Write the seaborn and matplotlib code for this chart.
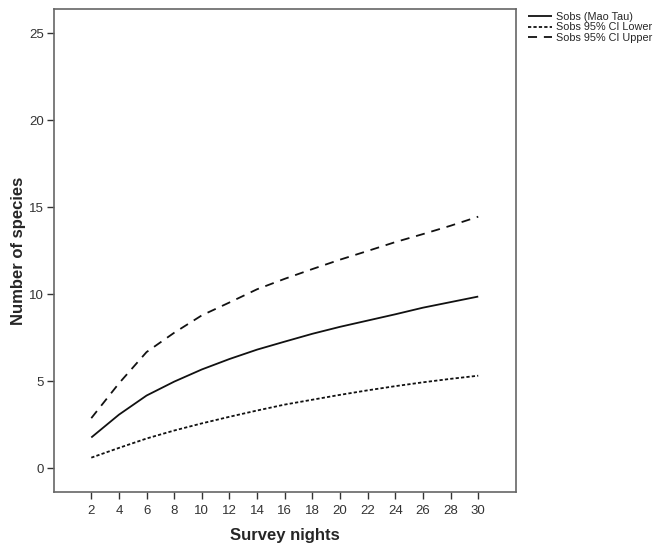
import matplotlib
matplotlib.use("Agg")
import matplotlib.pyplot as plt
import seaborn as sns
import pandas as pd

nights = [2, 4, 6, 8, 10, 12, 14, 16, 18, 20, 22, 24, 26, 28, 30]
sobs = [1.76, 3.07, 4.17, 4.97, 5.67, 6.27, 6.81, 7.27, 7.72, 8.12, 8.48, 8.84, 9.22, 9.54, 9.86]
ci_lower = [0.60, 1.16, 1.70, 2.16, 2.57, 2.95, 3.31, 3.65, 3.93, 4.21, 4.47, 4.71, 4.93, 5.13, 5.31]
ci_upper = [2.87, 4.87, 6.67, 7.78, 8.78, 9.52, 10.28, 10.88, 11.44, 11.98, 12.48, 12.99, 13.45, 13.93, 14.45]
series_names = ["Sobs (Mao Tau)", "Sobs 95% CI Lower", "Sobs 95% CI Upper"]
y_ticks = [0, 5, 10, 15, 20, 25]

sns.set_style("white")
plt.rcParams['font.family'] = ['Liberation Sans', 'DejaVu Sans']

fig = plt.figure(figsize=(6.63, 5.48), dpi=100)
ax = fig.add_axes([0.081, 0.102, 0.697, 0.882])

styles = [(0, ()), (0, (1.8, 1.2)), (0, (5, 3.8))]
for name, vals, ls in zip(series_names, [sobs, ci_lower, ci_upper], styles):
    df = pd.DataFrame({"x": nights, "y": vals})
    sns.lineplot(data=df, x="x", y="y", ax=ax, color="#111111", linewidth=1.3,
                 linestyle=ls, label=name)

ax.set_xlim(-0.72, 32.72)
ax.set_ylim(-1.38, 26.4)
ax.set_xticks(nights)
ax.set_yticks(y_ticks)
ax.tick_params(axis='both', which='both', direction='out', length=5, width=1,
               color='#333333', labelsize=9.5, labelcolor='#333333',
               bottom=True, left=True)
ax.tick_params(axis='x', pad=4)
ax.tick_params(axis='y', pad=2)
for s in ax.spines.values():
    s.set_color('#666666')
    s.set_linewidth(1.2)
ax.set_xlabel("Survey nights", fontsize=12, fontweight='bold', va='center')
ax.set_ylabel("Number of species", fontsize=12, fontweight='bold', va='center')
ax.xaxis.set_label_coords(0.5, (492 - 535) / 483)
ax.yaxis.set_label_coords((18.5 - 53.5) / 462, 0.5)

leg = ax.legend(loc='upper left', bbox_to_anchor=(1.018, 1.002), frameon=False,
                fontsize=7.8, handlelength=2.2, handletextpad=0.3,
                labelspacing=0.02, borderaxespad=0.0)

fig.savefig("out.png", dpi=100)
